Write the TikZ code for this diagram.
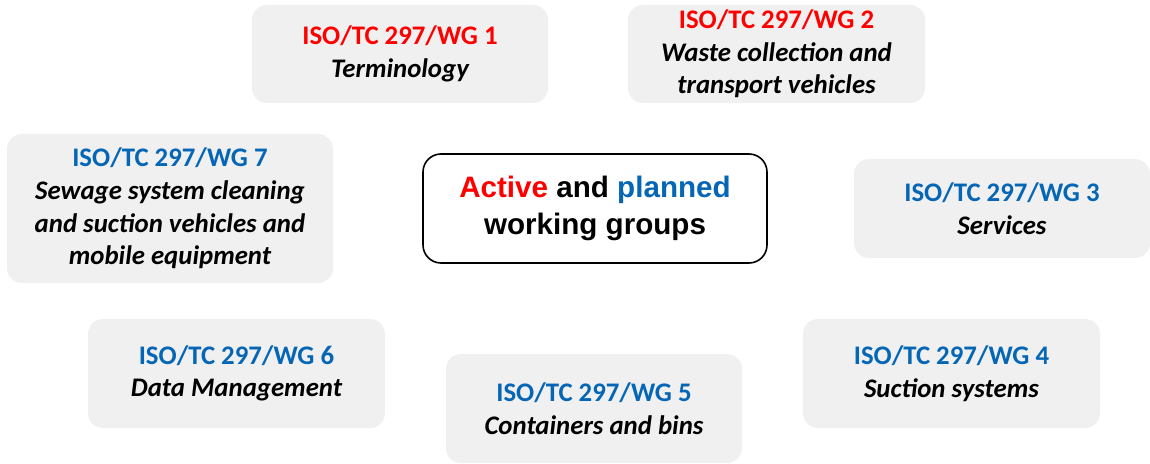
\documentclass[tikz,border=0pt]{standalone}
\usepackage{fontspec}
\setmainfont{Carlito}
\newfontfamily\arialfont{Liberation Sans}
\definecolor{wgfill}{HTML}{F0F0F0}
\definecolor{wgred}{HTML}{FF0000}
\definecolor{wgblue}{HTML}{0566B6}
\begin{document}
\begin{tikzpicture}[x=0.5pt,y=-0.5pt,
  wg/.style={fill=wgfill, rounded corners=7.5pt, inner sep=0pt, align=center,
    font=\fontsize{13.4}{16.3}\selectfont\bfseries},
  centerbox/.style={draw=black, line width=0.8pt, fill=white, rounded corners=9pt,
    inner sep=0pt, align=center, minimum width=172pt, minimum height=54.5pt,
    font=\arialfont\fontsize{14.8}{18.5}\selectfont\bfseries},
  red title/.style={},
]
\useasboundingbox (0,0) rectangle (1150,464);
\newcommand{\wgred}[1]{{\color{wgred}ISO/TC 297/WG #1}}
\newcommand{\wgblue}[1]{{\color{wgblue}ISO/TC 297/WG #1}}

\node[wg, minimum width=148pt, minimum height=49pt] (wg1) at (400,54)
  {\wgred{1}\\ \itshape Terminology};
\node[wg, minimum width=148.5pt, minimum height=49pt] (wg2) at (776.5,54)
  {\wgred{2}\\ \itshape Waste collection and\\ \itshape transport vehicles};
\node[wg, minimum width=163pt, minimum height=74.5pt] (wg7) at (170,208.5)
  {\wgblue{7}\\ \itshape Sewage system cleaning\\ \itshape and suction vehicles and\\ \itshape mobile equipment};
\node[wg, minimum width=148pt, minimum height=49.5pt] (wg3) at (1002,208.5)
  {\wgblue{3}\\ \itshape Services};
\node[wg, minimum width=148.5pt, minimum height=54.5pt] (wg6) at (236.5,373.5)
  {\wgblue{6}\\ \itshape Data Management};
\node[wg, minimum width=148.5pt, minimum height=54.5pt] (wg4) at (951.5,373.5)
  {\wgblue{4}\\ \itshape Suction systems};
\node[wg, minimum width=148pt, minimum height=54.5pt] (wg5) at (594,408.5)
  {\wgblue{5}\\ \itshape Containers and bins};

\node[centerbox] (center) at (595,208.5)
  {{\color{wgred}Active} and {\color{wgblue}planned}\\ working groups};
\end{tikzpicture}
\end{document}
